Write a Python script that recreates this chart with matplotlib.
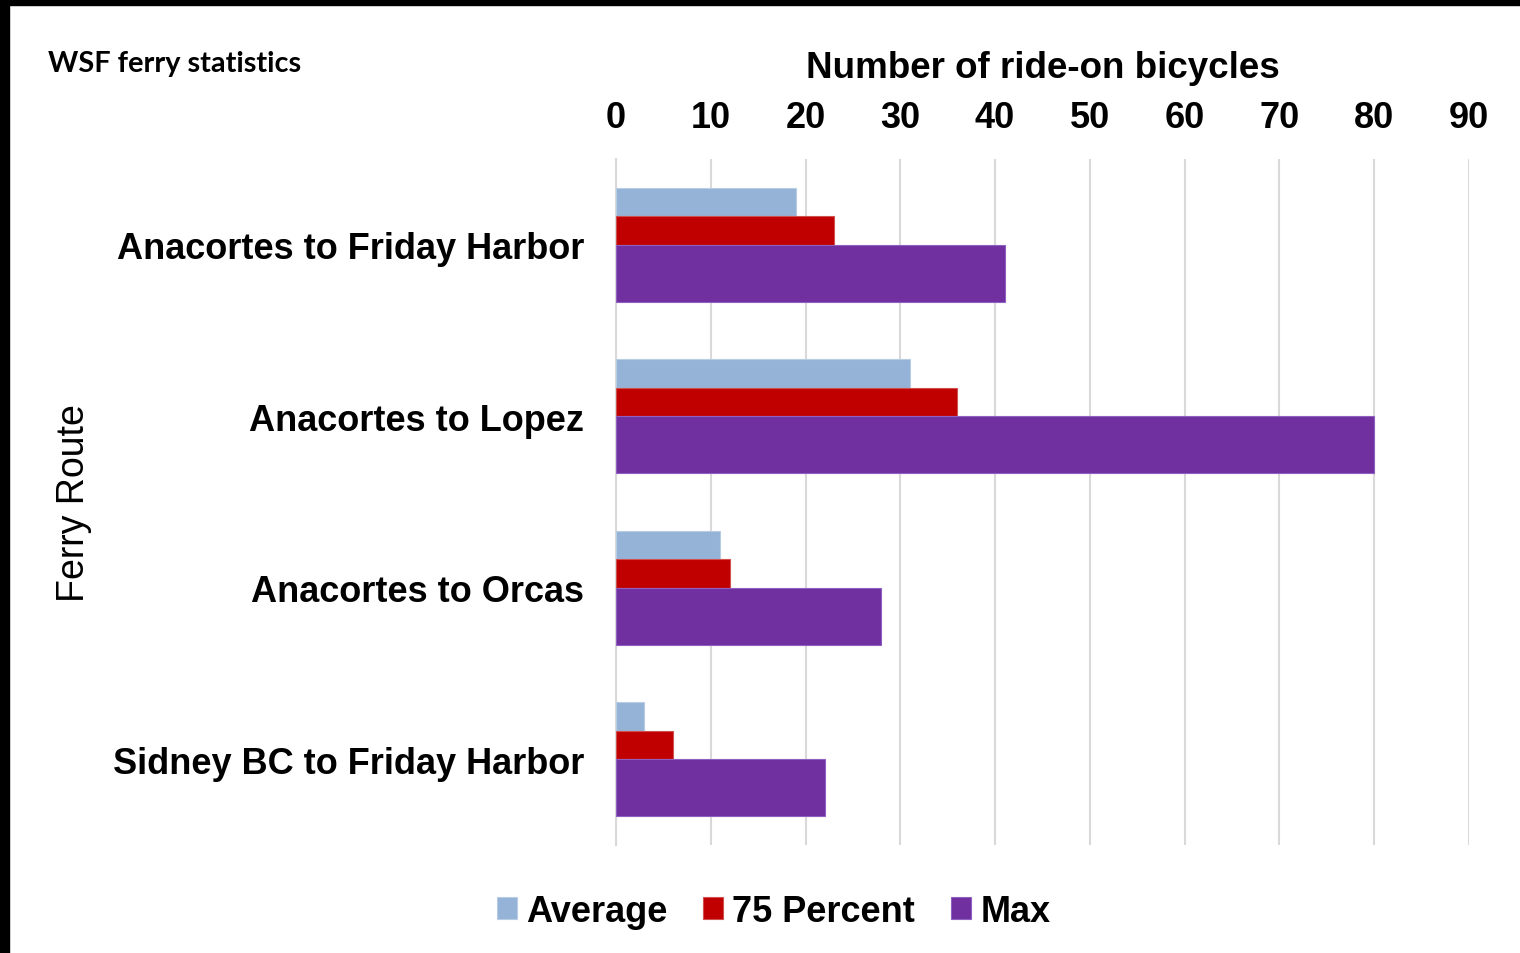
import numpy as np
import matplotlib.pyplot as plt
from matplotlib.patches import Rectangle

# ---------------------------------------------------
# Daten
# ---------------------------------------------------
routes = ["Anacortes to Friday Harbor", "Anacortes to Lopez",
          "Anacortes to Orcas", "Sidney BC to Friday Harbor"]
average = [19, 31, 11, 3]
pct75 = [23, 36, 12, 6]
maximum = [41, 80, 28, 22]
xticks = [0, 10, 20, 30, 40, 50, 60, 70, 80, 90]

plt.rcParams['font.family'] = ['Liberation Sans', 'DejaVu Sans']

fig = plt.figure(figsize=(15.2, 9.54), dpi=100)
ax = fig.add_axes([0.4053, 0.1132, 0.5611, 0.7191])

y = np.arange(len(routes))
ax.barh(y - 0.25, average, height=0.1667, color="#95B3D7",
        edgecolor="#b8cce4", linewidth=0.8, label="Average", zorder=3)
ax.barh(y - 0.0833, pct75, height=0.1667, color="#C00000",
        edgecolor="#d05050", linewidth=0.8, label="75 Percent", zorder=3)
ax.barh(y + 0.1667, maximum, height=0.3333, color="#7030A0",
        edgecolor="#9060c0", linewidth=0.8, label="Max", zorder=3)

ax.set_ylim(len(routes) - 0.5, -0.5)
ax.set_xlim(0, 90)
ax.set_xticks(xticks)
ax.set_yticks(y)
ax.set_yticklabels(routes, fontsize=26, fontweight="bold")
ax.xaxis.tick_top()
ax.xaxis.set_label_position("top")
ax.tick_params(axis="x", labelsize=26, length=0, pad=17)
ax.tick_params(axis="y", length=0, pad=23)
for lab in ax.get_xticklabels():
    lab.set_fontweight("bold")
ax.set_xlabel("Number of ride-on bicycles", fontsize=26.5,
              fontweight="bold", labelpad=16.5)
ax.grid(axis="x", color="#d9d9d9", linewidth=1.5, zorder=0)
for s in ["top", "right", "bottom"]:
    ax.spines[s].set_visible(False)
ax.spines["left"].set_color("#d9d9d9")
ax.spines["left"].set_linewidth(1.5)

fig.text(0.0487, 0.4725, "Ferry Route", rotation=90, fontsize=27,
         ha="center", va="center")
fig.text(0.0316, 0.933, "WSF ferry statistics", fontsize=20.8,
         fontweight="bold", family=["Lato", "DejaVu Sans"],
         ha="left", va="center")

fig.legend(loc="center", bbox_to_anchor=(0.509, 0.044), ncol=3,
           frameon=False, prop={"weight": "bold", "size": 26},
           handlelength=0.55, handleheight=0.55, handletextpad=0.25,
           columnspacing=1.0)

# schwarzer Rand oben und links
fig.patches.append(Rectangle((0, 1 - 6 / 954), 1, 6 / 954,
                             transform=fig.transFigure, color="black"))
fig.patches.append(Rectangle((0, 0), 9 / 1520, 1,
                             transform=fig.transFigure, color="black"))

fig.savefig("out.png", dpi=100)
